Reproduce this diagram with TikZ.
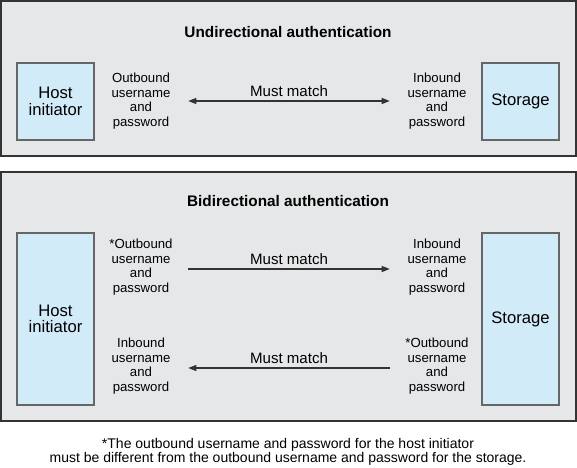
\documentclass[tikz,border=0pt]{standalone}
\usepackage{fontspec}
\setmainfont{Liberation Sans}
\usetikzlibrary{arrows.meta}
\definecolor{panelgray}{HTML}{E6E7E8}
\definecolor{boxblue}{HTML}{D1EBF8}
\begin{document}
\begin{tikzpicture}[
    x=0.75pt, y=-0.75pt,
    panel/.style={
      draw=black!80,
      line width=0.9pt,
      fill=panelgray
    },
    endbox/.style={
      rectangle,
      draw=black!60,
      line width=0.9pt,
      fill=boxblue,
      minimum width=57.75pt,
      inner sep=0pt,
      align=center,
      font=\fontsize{12.5}{12.5}\selectfont
    },
    title/.style={
      font=\fontsize{11.5}{13}\selectfont\bfseries
    },
    desc/.style={
      align=center,
      minimum width=70.5pt,
      inner sep=0pt,
      font=\fontsize{9.9}{11.1}\selectfont
    },
    match/.style={
      draw=black!80,
      line width=0.8pt
    },
    matchlabel/.style={
      above=3pt,
      inner sep=0pt,
      font=\fontsize{11.3}{12}\selectfont
    }
  ]
    \useasboundingbox (0,0) rectangle (577,467);

    % Panels
    \draw[panel] (1,1) rectangle (576,156);
    \draw[panel] (1,172) rectangle (576,421);

    % Top panel: unidirectional
    \node[title] (uni) at (288,32) {Undirectional authentication};
    \node[endbox, minimum height=57.75pt] (host1) at (55.5,101.5) {Host\\initiator};
    \node[endbox, minimum height=57.75pt] (stor1) at (520.5,101.5) {Storage};
    \node[desc] (out1) at (141,101) {Outbound\\username\\and\\password};
    \node[desc] (in1) at (437,101) {Inbound\\username\\and\\password};
    \draw[match, {Triangle[length=6pt,width=4.5pt]}-{Triangle[length=6pt,width=4.5pt]}]
      (out1.east) -- node[matchlabel] (m1) {Must match} (in1.west);

    % Bottom panel: bidirectional
    \node[title] (bi) at (288,201) {Bidirectional authentication};
    \node[endbox, minimum height=129pt] (host2) at (55.5,319) {Host\\initiator};
    \node[endbox, minimum height=129pt] (stor2) at (520.5,319) {Storage};
    \node[desc] (out2) at (141,267) {*Outbound\\username\\and\\password};
    \node[desc] (in2) at (437,267) {Inbound\\username\\and\\password};
    \node[desc] (in3) at (141,366) {Inbound\\username\\and\\password};
    \node[desc] (out3) at (437,366) {*Outbound\\username\\and\\password};
    \draw[match, -{Triangle[length=6pt,width=4.5pt]}]
      ([yshift=-1.5pt]out2.east) -- node[matchlabel] (m2) {Must match} ([yshift=-1.5pt]in2.west);
    \draw[match, -{Triangle[length=6pt,width=4.5pt]}]
      ([yshift=-1.5pt]out3.west) -- node[matchlabel] (m3) {Must match} ([yshift=-1.5pt]in3.east);

    % Footnote
    \node[align=center, font=\fontsize{10.5}{10.5}\selectfont] (note) at (288,452)
      {*The outbound username and password for the host initiator\\
       must be different from the outbound username and password for the storage.};

  \end{tikzpicture}
\end{document}
